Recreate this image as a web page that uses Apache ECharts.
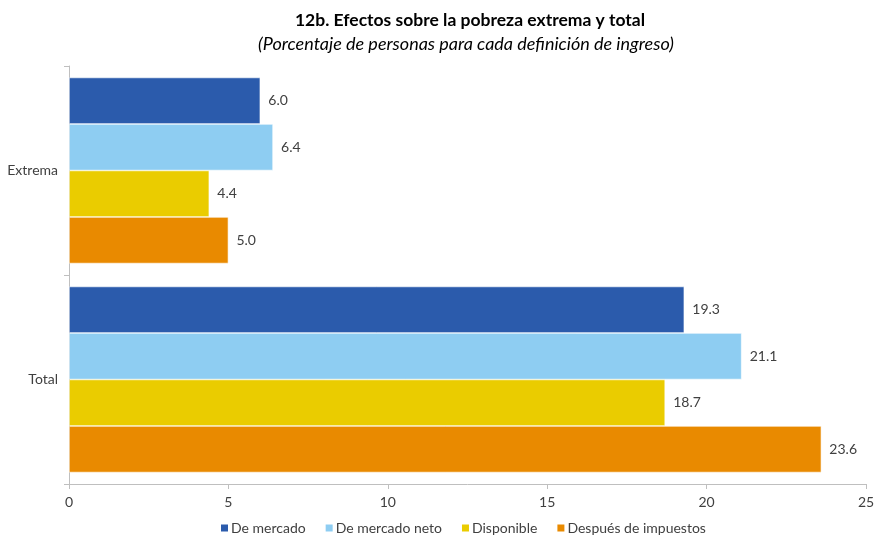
<!DOCTYPE html>
<html><head><meta charset="utf-8">
<script src="https://cdn.jsdelivr.net/npm/echarts@6/dist/echarts.min.js"></script>
<style>html,body{margin:0;padding:0;background:#fff}#c{width:888px;height:540px}</style>
</head><body><div id="c"></div>
<script>
const categories = ['Extrema', 'Total'];
const seriesNames = ['De mercado', 'De mercado neto', 'Disponible', 'Después de impuestos'];
const deMercado = [6.0, 19.3];
const deMercadoNeto = [6.4, 21.1];
const disponible = [4.4, 18.7];
const despuesImpuestos = [5.0, 23.6];
const colors = ['#2B5BAC', '#8ECDF2', '#EACC00', '#E98A00'];
const values = [deMercado, deMercadoNeto, disponible, despuesImpuestos];
const FONT = 'Lato, "Open Sans", sans-serif';

const chart = echarts.init(document.getElementById('c'));
chart.setOption({
  animation: false,
  textStyle: { fontFamily: FONT },
  title: [{
    text: '12b. Efectos sobre la pobreza extrema y total',
    left: 465, top: 6, textAlign: 'center',
    textStyle: { fontFamily: FONT, fontSize: 17.5, fontWeight: 'bold', color: '#000' }
  }, {
    text: '(Porcentaje de personas para cada definición de ingreso)',
    left: 461, top: 30, textAlign: 'center',
    textStyle: { fontFamily: FONT, fontSize: 18, fontStyle: 'italic', fontWeight: 'normal', color: '#000' }
  }],
  legend: {
    bottom: 0, left: 214, itemWidth: 9, itemHeight: 9, itemGap: 18,
    icon: 'rect',
    data: seriesNames,
    textStyle: { fontFamily: FONT, fontSize: 14, color: '#404040', padding: [0, 0, 0, -3] }
  },
  grid: { left: 69, right: 22, top: 66, bottom: 56, containLabel: false },
  xAxis: {
    type: 'value', min: 0, max: 25, interval: 5,
    axisLine: { show: true, lineStyle: { color: '#BFBFBF' } },
    axisTick: { show: true, length: 5, lineStyle: { color: '#BFBFBF' } },
    splitLine: { show: false },
    axisLabel: { fontFamily: FONT, fontSize: 14, color: '#404040', margin: 11 }
  },
  yAxis: {
    type: 'category', data: categories, inverse: true,
    axisLine: { show: true, lineStyle: { color: '#BFBFBF' } },
    axisTick: { show: true, length: 5, lineStyle: { color: '#BFBFBF' } },
    axisLabel: { fontFamily: FONT, fontSize: 14, color: '#404040', margin: 11 }
  },
  series: seriesNames.map((n, i) => ({
    name: n, type: 'bar', data: values[i],
    barGap: '0%', barCategoryGap: '11%',
    itemStyle: { color: colors[i], borderColor: '#ffffff', borderWidth: 0.6 },
    label: { show: true, position: 'right', distance: 8, formatter: p => p.value.toFixed(1),
      fontFamily: FONT, fontSize: 14, color: '#404040' }
  }))
});
</script></body></html>
